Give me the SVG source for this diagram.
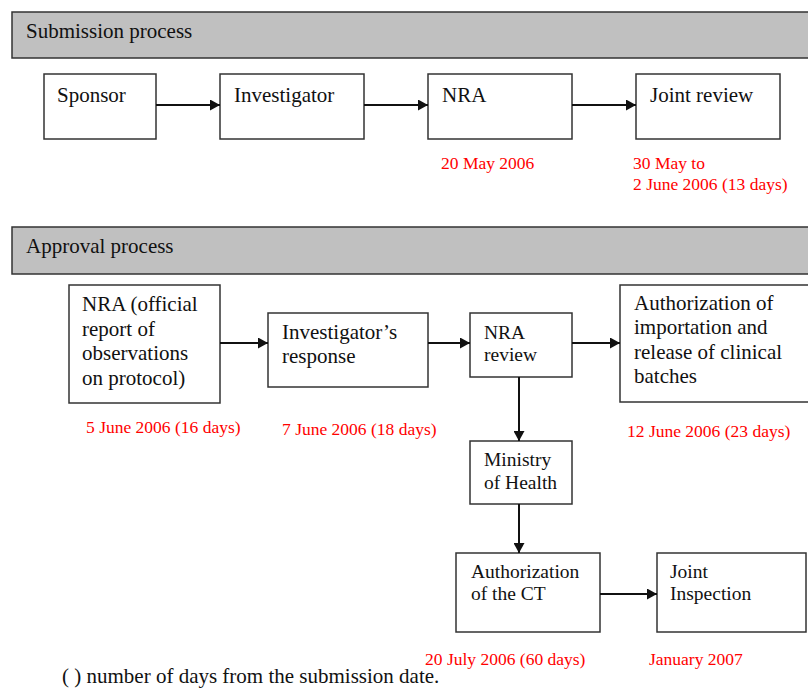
<svg xmlns="http://www.w3.org/2000/svg" width="808" height="697" viewBox="0 0 808 697">
<style>
text{font-family:"Liberation Serif","Times New Roman",serif;fill:#111}
.h{font-size:21px}
.b{font-size:21px}
.s{font-size:19.5px}
.r{font-size:17.5px;fill:#f00}
.hdr{fill:#c0c0c0;stroke:#333;stroke-width:1.5}
.box{fill:#fff;stroke:#333;stroke-width:1.5}
.c line{stroke:#111;stroke-width:2}
</style>
<defs>
<marker id="ah" markerUnits="userSpaceOnUse" markerWidth="10" markerHeight="11" refX="10" refY="5.5" orient="auto">
<path d="M0,0 L10,5.5 L0,11 z" fill="#111"/>
</marker>
</defs>
<rect width="808" height="697" fill="#fff"/>
<g id="hdr-submission">
<rect class="hdr" x="12" y="12" width="800" height="46"/>
<text class="h" x="26" y="38">Submission process</text>
</g>
<g id="hdr-approval">
<rect class="hdr" x="12" y="227" width="800" height="47"/>
<text class="h" x="26" y="253">Approval process</text>
</g>
<g id="sponsor">
<rect class="box" x="44" y="74" width="112" height="65"/>
<text class="b" x="57" y="102">Sponsor</text>
</g>
<g id="investigator">
<rect class="box" x="220" y="74" width="144" height="65"/>
<text class="b" x="234" y="102">Investigator</text>
</g>
<g id="nra">
<rect class="box" x="428" y="74" width="144" height="65"/>
<text class="b" x="442" y="102">NRA</text>
<text class="r" x="441" y="169">20 May 2006</text>
</g>
<g id="joint-review">
<rect class="box" x="636" y="74" width="144" height="65"/>
<text class="b" x="650" y="102">Joint review</text>
<text class="r" x="633" y="169">30 May to</text>
<text class="r" x="633" y="190">2 June 2006 (13 days)</text>
</g>
<g id="nra-official">
<rect class="box" x="69" y="285" width="151" height="118"/>
<text class="b" x="82" y="311">NRA (official</text>
<text class="b" x="82" y="336">report of</text>
<text class="b" x="82" y="360">observations</text>
<text class="b" x="82" y="385">on protocol)</text>
<text class="r" x="86" y="433">5 June 2006 (16 days)</text>
</g>
<g id="investigator-response">
<rect class="box" x="268" y="313" width="160" height="74"/>
<text class="b" x="282" y="339">Investigator’s</text>
<text class="b" x="282" y="363">response</text>
<text class="r" x="282" y="435">7 June 2006 (18 days)</text>
</g>
<g id="nra-review">
<rect class="box" x="470" y="313" width="102" height="64"/>
<text class="s" x="484" y="339">NRA</text>
<text class="s" x="484" y="361">review</text>
</g>
<g id="authorization-importation">
<rect class="box" x="620" y="285" width="192" height="117"/>
<text class="b" x="634" y="310">Authorization of</text>
<text class="b" x="634" y="334">importation and</text>
<text class="b" x="634" y="359">release of clinical</text>
<text class="b" x="634" y="383">batches</text>
<text class="r" x="627" y="437">12 June 2006 (23 days)</text>
</g>
<g id="ministry">
<rect class="box" x="470" y="441" width="102" height="63"/>
<text class="s" x="484" y="466">Ministry</text>
<text class="s" x="484" y="489">of Health</text>
</g>
<g id="authorization-ct">
<rect class="box" x="456" y="553" width="144" height="79"/>
<text class="s" x="471" y="578">Authorization</text>
<text class="s" x="471" y="600">of the CT</text>
<text class="r" x="425" y="665">20 July 2006 (60 days)</text>
</g>
<g id="joint-inspection">
<rect class="box" x="657" y="553" width="149" height="79"/>
<text class="s" x="670" y="578">Joint</text>
<text class="s" x="670" y="600">Inspection</text>
<text class="r" x="649" y="665">January 2007</text>
</g>
<g id="connectors" class="c">
<line x1="156" y1="105" x2="220" y2="105" marker-end="url(#ah)"/>
<line x1="364" y1="105" x2="428" y2="105" marker-end="url(#ah)"/>
<line x1="572" y1="105" x2="636" y2="105" marker-end="url(#ah)"/>
<line x1="220" y1="343" x2="268" y2="343" marker-end="url(#ah)"/>
<line x1="428" y1="343" x2="470" y2="343" marker-end="url(#ah)"/>
<line x1="572" y1="343" x2="620" y2="343" marker-end="url(#ah)"/>
<line x1="519" y1="377" x2="519" y2="441" marker-end="url(#ah)"/>
<line x1="519" y1="504" x2="519" y2="553" marker-end="url(#ah)"/>
<line x1="600" y1="594" x2="657" y2="594" marker-end="url(#ah)"/>
</g>
<text class="b" x="62" y="683">( ) number of days from the submission date.</text>
</svg>
